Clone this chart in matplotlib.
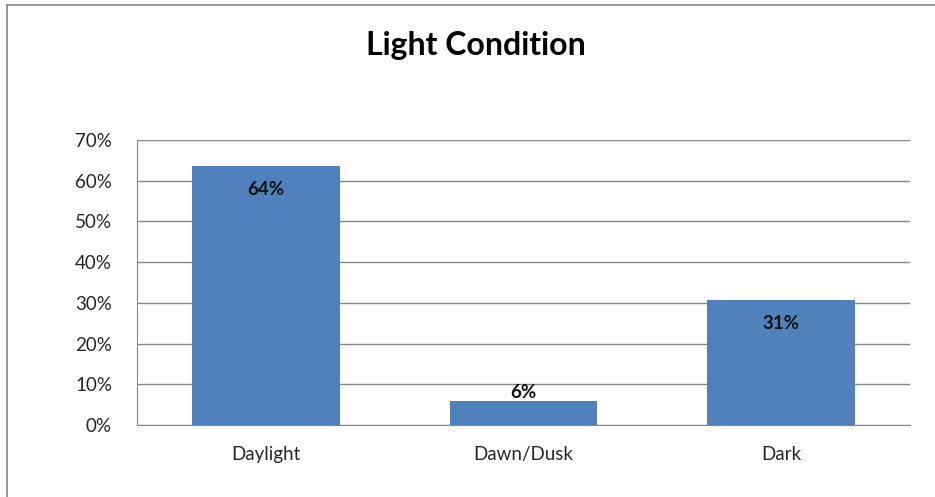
import matplotlib.pyplot as plt
from matplotlib.lines import Line2D
from matplotlib.ticker import PercentFormatter

plt.rcParams['font.family'] = ['Lato', 'DejaVu Sans']

categories = ['Daylight', 'Dawn/Dusk', 'Dark']
shares = [0.636, 0.059, 0.307]
y_ticks = [0.0, 0.1, 0.2, 0.3, 0.4, 0.5, 0.6, 0.7]

bar_color = '#4f81bd'
grid_color = '#868686'

fig = plt.figure(figsize=(9.35, 4.97), dpi=100)
ax = fig.add_axes([137 / 935, 72 / 497, 773 / 935, 285 / 497])

x = range(len(categories))
bars = ax.bar(x, shares, width=0.572, color=bar_color, zorder=2)

for rect, v in zip(bars, shares):
    cx = rect.get_x() + rect.get_width() / 2
    # small bars get their label above, the others just inside the top
    if v < 0.1:
        ax.annotate('{:.0%}'.format(v), (cx, v), xytext=(0, 8), textcoords='offset pixels',
                    ha='center', va='center', fontsize=13.5, fontweight='bold', color='#111111')
    else:
        ax.annotate('{:.0%}'.format(v), (cx, v), xytext=(0, -23), textcoords='offset pixels',
                    ha='center', va='center', fontsize=13.5, fontweight='bold', color='#111111')

ax.set_xlim(-0.5, 2.5)
ax.set_ylim(0, 0.7)
ax.set_yticks(y_ticks)
ax.yaxis.set_major_formatter(PercentFormatter(1.0, decimals=0))
ax.set_xticks(list(x))
ax.set_xticklabels(categories)

ax.grid(axis='y', color=grid_color, linewidth=1, zorder=0)
ax.tick_params(axis='both', length=0, labelsize=13.5, colors='#262626')
ax.tick_params(axis='y', pad=18)
ax.tick_params(axis='x', pad=15)

for side in ['top', 'right']:
    ax.spines[side].set_visible(False)
ax.spines['left'].set_color(grid_color)
ax.spines['bottom'].set_color(grid_color)

fig.text(476 / 935, 1 - 46 / 497, 'Light Condition', ha='center', va='center',
         fontsize=23, fontweight='bold', color='#000000')

# chart frame: left and top edges
fig.add_artist(Line2D([7 / 935, 7 / 935], [0, 1 - 5 / 497], transform=fig.transFigure,
                      color='#888888', linewidth=1.2))
fig.add_artist(Line2D([7 / 935, 1], [1 - 5 / 497, 1 - 5 / 497], transform=fig.transFigure,
                      color='#888888', linewidth=1.2))

fig.savefig('out.png', dpi=100)
